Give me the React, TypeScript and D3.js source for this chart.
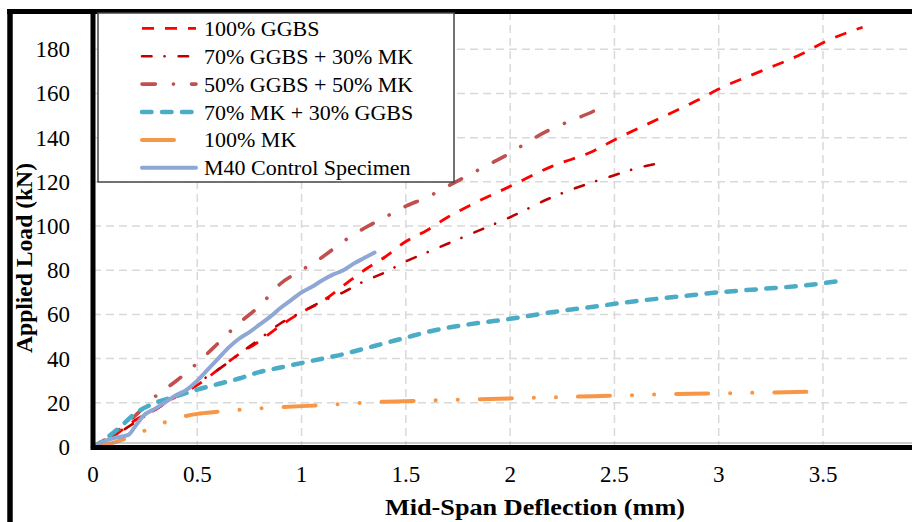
import React from "react";
import * as d3 from "d3";

type Pt = [number, number];

const xTicks = [0, 0.5, 1, 1.5, 2, 2.5, 3, 3.5];
const yTicks = [0, 20, 40, 60, 80, 100, 120, 140, 160, 180];
const xGrid = [0.5, 1, 1.5, 2, 2.5, 3, 3.5, 4];
const yGrid = [20, 40, 60, 80, 100, 120, 140, 160, 180];

const ggbs100: Pt[] = [
  [0, 0], [0.1, 5], [0.2, 12], [0.3, 17], [0.4, 23], [0.5, 28], [0.6, 35], [0.7, 42],
  [0.8, 48], [0.9, 55], [1.0, 61], [1.1, 66], [1.2, 73], [1.3, 80], [1.4, 86], [1.5, 93],
  [1.6, 98], [1.7, 104], [1.8, 109], [2.0, 118], [2.2, 127], [2.4, 134], [2.5, 139],
  [2.7, 148], [2.9, 157], [3.0, 162], [3.2, 170], [3.4, 178], [3.5, 183], [3.69, 190],
];
const ggbs70mk30: Pt[] = [
  [0, 0], [0.1, 5], [0.2, 11], [0.3, 17], [0.4, 23], [0.5, 29], [0.6, 35], [0.7, 42],
  [0.8, 49], [0.9, 56], [1.0, 61], [1.1, 66], [1.2, 70], [1.3, 75], [1.4, 79], [1.5, 84],
  [1.6, 88], [1.7, 92], [1.8, 96], [2.0, 104], [2.2, 113], [2.4, 120], [2.5, 123],
  [2.6, 126], [2.69, 128],
];
const ggbs50mk50: Pt[] = [
  [0, 0], [0.1, 6], [0.2, 14], [0.3, 23], [0.4, 30], [0.5, 38], [0.6, 47], [0.7, 56],
  [0.8, 64], [0.9, 74], [1.0, 80], [1.1, 86], [1.2, 93], [1.3, 99], [1.4, 104], [1.5, 109],
  [1.6, 113], [1.7, 118], [1.8, 123], [1.9, 128], [2.0, 133], [2.1, 139], [2.2, 144],
  [2.3, 148], [2.4, 152], [2.46, 155],
];
const mk70ggbs30: Pt[] = [
  [0, 0], [0.05, 3], [0.13, 9], [0.2, 15], [0.3, 20], [0.4, 23], [0.5, 26], [0.6, 28.5],
  [0.7, 31], [0.8, 34], [0.9, 36], [1.0, 38], [1.1, 40], [1.2, 42], [1.3, 44.5], [1.4, 47],
  [1.5, 49.5], [1.6, 52], [1.7, 54], [1.8, 55.5], [2.0, 58], [2.2, 61], [2.4, 63.5],
  [2.6, 66], [2.8, 68], [3.0, 70], [3.2, 71.5], [3.4, 73], [3.57, 75],
];
const mk100: Pt[] = [
  [0, 0], [0.1, 2], [0.2, 5.5], [0.3, 9.5], [0.4, 13], [0.5, 15], [0.6, 16], [0.8, 17.5],
  [1.0, 18.5], [1.2, 19.5], [1.4, 20.5], [1.6, 21], [1.8, 21.5], [2.0, 22], [2.2, 22.5],
  [2.4, 23], [2.6, 23.5], [2.8, 24], [3.0, 24.3], [3.2, 24.6], [3.45, 25],
];
const m40: Pt[] = [
  [0, 0], [0.05, 2.5], [0.1, 4], [0.17, 5.5], [0.2, 9], [0.24, 14], [0.3, 17.5], [0.35, 20.5],
  [0.4, 23.5], [0.45, 26], [0.5, 30], [0.55, 35], [0.6, 40], [0.65, 45], [0.7, 49],
  [0.75, 52], [0.8, 55.5], [0.85, 59], [0.9, 63], [0.95, 66.5], [1.0, 70], [1.05, 72.5],
  [1.1, 75.5], [1.15, 78], [1.2, 80], [1.25, 83], [1.3, 85.5], [1.35, 88],
];

const seriesNames = [
  "100% GGBS",
  "70% GGBS + 30% MK",
  "50% GGBS + 50% MK",
  "70% MK + 30% GGBS",
  "100% MK",
  "M40 Control Specimen",
];
const seriesData = [ggbs100, ggbs70mk30, ggbs50mk50, mk70ggbs30, mk100, m40];

const styles = [
  { color: "#FF0000", width: 2.8, dash: "12,11", cap: "butt" },
  { color: "#C00000", width: 2.6, dash: "9.5,13,0.1,14", cap: "round" },
  { color: "#C0504D", width: 3.6, dash: "13.4,18,0.1,18", cap: "round" },
  { color: "#4BACC6", width: 4.5, dash: "9.5,10.5", cap: "round" },
  { color: "#F79646", width: 4, dash: "32,22,0.1,22,0.1,22", cap: "round" },
  { color: "#8FA7D4", width: 4, dash: "", cap: "round" },
];

export default function App() {
  const W = 912;
  const H = 522;
  const x = d3.scaleLinear().domain([0, 3.5]).range([93, 823]);
  const y = d3.scaleLinear().domain([0, 180]).range([447, 49.3]);
  const plotTop = 12;
  const plotBottom = 447;
  const plotLeft = 93;
  const line = d3
    .line<Pt>()
    .x((d) => x(d[0]))
    .y((d) => y(d[1]))
    .curve(d3.curveMonotoneX);

  const font = "'Liberation Serif', 'Times New Roman', serif";
  const legX = 98, legY = 13, legW = 356, legH = 169;
  const rowY = (i: number) => 28.3 + i * 27.9;

  return (
    <svg
      width={W}
      height={H}
      style={{ position: "absolute", left: 0, top: 0, background: "#fff" }}
      fontFamily={font}
    >
      <rect x={0} y={0} width={W} height={H} fill="#fff" />
      {/* gridlines */}
      {yGrid.map((v) => (
        <line key={"gy" + v} x1={plotLeft} x2={W} y1={y(v)} y2={y(v)}
          stroke="#D9D9D9" strokeWidth={1.5} strokeDasharray="8,5" />
      ))}
      {xGrid.map((v) => (
        <line key={"gx" + v} x1={x(v)} x2={x(v)} y1={plotTop} y2={plotBottom}
          stroke="#D9D9D9" strokeWidth={1.5} strokeDasharray="8,5" />
      ))}
      {/* series */}
      {seriesData.map((d, i) => (
        <path key={"s" + i} d={line(d) || ""} fill="none" stroke={styles[i].color}
          strokeWidth={styles[i].width} strokeDasharray={styles[i].dash || undefined}
          strokeLinecap={styles[i].cap as any} strokeLinejoin="round" />
      ))}
      {/* axes and frame */}
      <line x1={plotLeft} x2={W} y1={443} y2={443} stroke="#999" strokeWidth={1} />
      <line x1={plotLeft - 2} x2={W} y1={447.5} y2={447.5} stroke="#000" strokeWidth={5} />
      <line x1={plotLeft} x2={plotLeft} y1={plotTop - 2} y2={450} stroke="#000" strokeWidth={5} />
      <line x1={10} x2={10} y1={9} y2={H} stroke="#000" strokeWidth={5.5} />
      <line x1={7} x2={W} y1={11.5} y2={11.5} stroke="#000" strokeWidth={5} />
      {/* tick labels */}
      {yTicks.map((v) => (
        <text key={"ty" + v} x={70} y={y(v) + 8} textAnchor="end" fontSize={23} fill="#000">
          {v}
        </text>
      ))}
      {xTicks.map((v) => (
        <text key={"tx" + v} x={x(v)} y={482} textAnchor="middle" fontSize={23} fill="#000">
          {v}
        </text>
      ))}
      {/* axis titles */}
      <text x={535} y={515} textAnchor="middle" fontSize={24} fontWeight="bold"
        textLength={300} lengthAdjust="spacingAndGlyphs" fill="#000">
        Mid-Span Deflection (mm)
      </text>
      <text transform={`translate(32,258) rotate(-90)`} textAnchor="middle" fontSize={24}
        fontWeight="bold" textLength={190} lengthAdjust="spacingAndGlyphs" fill="#000">
        Applied Load (kN)
      </text>
      {/* legend */}
      <rect x={legX} y={legY} width={legW} height={legH} fill="#fff" stroke="#444" strokeWidth={1.5} />
      {seriesNames.map((name, i) => (
        <g key={"l" + i}>
          <line x1={142} x2={196} y1={rowY(i)} y2={rowY(i)} stroke={styles[i].color}
            strokeWidth={styles[i].width} strokeDasharray={styles[i].dash || undefined}
            strokeLinecap={styles[i].cap as any} />
          <text x={204} y={rowY(i) + 7.5} fontSize={22} fill="#000">
            {name}
          </text>
        </g>
      ))}
    </svg>
  );
}
